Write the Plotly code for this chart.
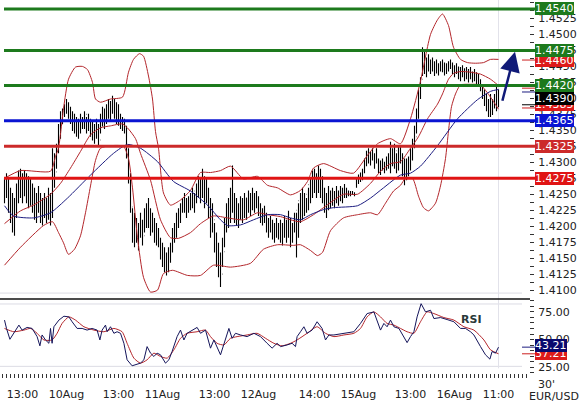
import plotly.graph_objects as go

W, H = 579, 406
FONT = "DejaVu Sans"

# ---------------- data ----------------
tick_idx = [9, 31, 57, 79, 105, 127, 155, 177, 203, 225, 247]
tick_txt = ["13:00", "10Aug", "13:00", "11Aug", "13:00", "12Aug",
            "14:00", "15Aug", "13:00", "16Aug", "11:00"]

# EUR/USD 30-minute bars, prices in pips (1.4275 -> 14275)
high_pips = [
    14275, 14283, 14275, 14260, 14252, 14244, 14267, 14287, 14290, 14283,
    14287, 14283, 14278, 14275, 14267, 14260, 14252, 14263, 14252, 14244,
    14252, 14244, 14260, 14252, 14322, 14314, 14329, 14360, 14380, 14384,
    14391, 14399, 14394, 14387, 14380, 14376, 14371, 14368, 14376, 14371,
    14380, 14371, 14376, 14368, 14365, 14360, 14368, 14360, 14376, 14387,
    14384, 14391, 14399, 14396, 14404, 14399, 14394, 14391, 14376, 14371,
    14368, 14357, 14322, 14283, 14228, 14221, 14213, 14205, 14221, 14210,
    14228, 14236, 14244, 14228, 14221, 14213, 14205, 14197, 14182, 14174,
    14167, 14159, 14167, 14174, 14197, 14205, 14221, 14228, 14236, 14244,
    14252, 14244, 14247, 14252, 14260, 14252, 14267, 14278, 14275, 14290,
    14278, 14275, 14260, 14244, 14236, 14205, 14190, 14174, 14159, 14182,
    14213, 14236, 14244, 14260, 14295, 14252, 14244, 14236, 14247, 14244,
    14252, 14244, 14256, 14252, 14260, 14252, 14255, 14247, 14236, 14228,
    14232, 14221, 14213, 14216, 14210, 14205, 14213, 14205, 14210, 14205,
    14216, 14210, 14224, 14213, 14205, 14221, 14221, 14236, 14252, 14260,
    14252, 14244, 14260, 14275, 14287, 14290, 14283, 14295, 14290, 14278,
    14260, 14252, 14263, 14256, 14260, 14255, 14263, 14256, 14263, 14260,
    14266, 14260, 14256, 14255, 14255, 14253, 14275, 14281, 14284, 14290,
    14306, 14318, 14322, 14317, 14322, 14314, 14322, 14306, 14303, 14306,
    14301, 14309, 14314, 14332, 14322, 14329, 14314, 14325, 14326, 14314,
    14306, 14306, 14309, 14322, 14337, 14357, 14384, 14414, 14433, 14480,
    14473, 14464, 14469, 14461, 14464, 14458, 14461, 14455, 14458, 14461,
    14456, 14455, 14458, 14461, 14456, 14452, 14455, 14450, 14449, 14452,
    14447, 14449, 14446, 14449, 14442, 14446, 14441, 14438, 14430, 14422,
    14414, 14407, 14399, 14407, 14399, 14407, 14422, 14414]
low_pips = [
    14236, 14244, 14221, 14205, 14190, 14185, 14213, 14236, 14244, 14236,
    14247, 14236, 14228, 14232, 14221, 14210, 14205, 14221, 14205, 14201,
    14213, 14205, 14210, 14201, 14213, 14260, 14290, 14314, 14337, 14360,
    14371, 14376, 14368, 14360, 14349, 14345, 14340, 14337, 14345, 14352,
    14352, 14345, 14349, 14340, 14334, 14329, 14337, 14326, 14345, 14356,
    14352, 14360, 14368, 14365, 14376, 14368, 14360, 14357, 14352, 14349,
    14345, 14306, 14267, 14221, 14174, 14167, 14174, 14162, 14182, 14170,
    14190, 14197, 14197, 14185, 14190, 14174, 14170, 14167, 14148, 14136,
    14128, 14123, 14128, 14143, 14159, 14174, 14182, 14197, 14205, 14221,
    14221, 14213, 14221, 14225, 14228, 14221, 14236, 14244, 14236, 14244,
    14228, 14236, 14213, 14182, 14190, 14159, 14136, 14120, 14105, 14136,
    14167, 14190, 14197, 14205, 14221, 14205, 14201, 14197, 14210, 14205,
    14213, 14210, 14221, 14216, 14225, 14221, 14228, 14216, 14205, 14201,
    14205, 14190, 14182, 14190, 14179, 14174, 14182, 14179, 14174, 14170,
    14182, 14174, 14182, 14167, 14174, 14190, 14151, 14182, 14205, 14210,
    14216, 14221, 14225, 14236, 14244, 14252, 14244, 14252, 14244, 14236,
    14221, 14213, 14225, 14228, 14232, 14228, 14236, 14232, 14239, 14236,
    14244, 14244, 14247, 14247, 14249, 14247, 14260, 14266, 14269, 14272,
    14283, 14294, 14298, 14295, 14303, 14290, 14298, 14283, 14280, 14287,
    14283, 14287, 14290, 14283, 14294, 14290, 14283, 14287, 14298, 14278,
    14264, 14272, 14278, 14287, 14303, 14322, 14345, 14368, 14399, 14435,
    14438, 14433, 14442, 14438, 14442, 14435, 14439, 14436, 14442, 14441,
    14436, 14438, 14442, 14446, 14438, 14433, 14438, 14430, 14427, 14433,
    14427, 14430, 14425, 14430, 14425, 14427, 14422, 14421, 14411, 14399,
    14388, 14380, 14371, 14371, 14374, 14384, 14380, 14386]
close_pips = [
    14250, 14262, 14240, 14220, 14200, 14230, 14255, 14275, 14260, 14270,
    14255, 14265, 14240, 14255, 14230, 14220, 14240, 14230, 14215, 14225,
    14240, 14215, 14245, 14225, 14300, 14285, 14320, 14350, 14360, 14380,
    14385, 14385, 14372, 14370, 14355, 14365, 14350, 14360, 14370, 14360,
    14375, 14355, 14365, 14345, 14350, 14340, 14355, 14335, 14370, 14375,
    14365, 14385, 14380, 14390, 14395, 14380, 14370, 14365, 14360, 14355,
    14350, 14315, 14275, 14230, 14185, 14200, 14180, 14190, 14205, 14185,
    14215, 14225, 14210, 14195, 14205, 14185, 14180, 14175, 14160, 14145,
    14140, 14135, 14160, 14165, 14185, 14195, 14215, 14220, 14230, 14240,
    14230, 14238, 14240, 14250, 14240, 14255, 14265, 14265, 14250, 14255,
    14245, 14255, 14225, 14200, 14210, 14175, 14160, 14135, 14125, 14160,
    14200, 14225, 14215, 14245, 14235, 14215, 14220, 14230, 14225, 14240,
    14225, 14245, 14235, 14250, 14240, 14235, 14240, 14225, 14215, 14215,
    14210, 14200, 14200, 14195, 14190, 14195, 14200, 14185, 14195, 14190,
    14200, 14190, 14210, 14180, 14200, 14200, 14225, 14240, 14245, 14235,
    14240, 14250, 14265, 14270, 14265, 14280, 14270, 14285, 14265, 14250,
    14230, 14240, 14245, 14250, 14240, 14250, 14245, 14255, 14250, 14255,
    14252, 14250, 14252, 14250, 14252, 14250, 14270, 14275, 14280, 14288,
    14300, 14310, 14305, 14310, 14312, 14300, 14305, 14295, 14290, 14298,
    14292, 14300, 14305, 14295, 14310, 14300, 14318, 14300, 14305, 14285,
    14290, 14295, 14300, 14315, 14330, 14340, 14375, 14405, 14430, 14445,
    14450, 14455, 14450, 14455, 14448, 14450, 14445, 14450, 14455, 14448,
    14445, 14450, 14455, 14450, 14445, 14440, 14448, 14440, 14435, 14445,
    14435, 14440, 14432, 14438, 14430, 14435, 14428, 14425, 14415, 14405,
    14395, 14390, 14378, 14395, 14385, 14395, 14400, 14390]
first_open_pips = 14245

# Bollinger bands and moving average (bar index, pips)
bb_up_idx = [0, 8, 23, 25.5, 27, 29.5, 32, 35.5, 39, 41.5, 44, 45.5, 48, 53, 59, 62, 64.5,
             67.5, 69.5, 72, 74, 75.5, 77, 79.5, 83, 88, 93, 98, 103, 108, 113, 119.5,
             126.5, 131.5, 136.5, 143, 148, 151.5, 154.5, 159.5, 168, 174.5, 181.5, 186.5,
             193, 198, 203, 208, 213, 216.5, 219, 222, 224.5, 228, 231.5, 235.5, 239.5, 243, 247]
bb_up_pips = [14275, 14287, 14286, 14309, 14322, 14384, 14430, 14449, 14450, 14445, 14425,
              14399, 14394, 14399, 14402, 14441, 14461, 14470, 14466, 14435, 14399, 14348,
              14322, 14252, 14233, 14241, 14256, 14284, 14284, 14287, 14294, 14274, 14278,
              14264, 14260, 14249, 14256, 14270, 14291, 14298, 14287, 14283, 14311, 14329,
              14337, 14329, 14368, 14427, 14500, 14523, 14532, 14514, 14480, 14461, 14456,
              14455, 14456, 14461, 14461]
bb_mid_idx = [0, 8, 14.5, 23, 28, 33, 38, 43, 48, 53, 59, 62, 65.5, 68, 73, 78, 83, 87, 93,
              98, 104.5, 111.5, 119.5, 126.5, 131.5, 138, 143, 148, 154.5, 159.5, 169.5,
              176.5, 183, 188, 193, 198, 203, 207, 211.5, 216.5, 219, 222, 224.5, 228, 233,
              238, 243, 247]
bb_mid_pips = [14204, 14224, 14233, 14250, 14267, 14291, 14317, 14343, 14354, 14357, 14360,
               14352, 14337, 14314, 14272, 14210, 14182, 14181, 14190, 14204, 14216, 14213,
               14210, 14221, 14218, 14215, 14210, 14207, 14218, 14229, 14250, 14250, 14267,
               14286, 14298, 14301, 14322, 14340, 14368, 14391, 14407, 14430, 14439, 14442,
               14441, 14438, 14430, 14420]
bb_low_idx = [0, 8, 19.5, 24, 27, 29.5, 32, 35, 38, 40.5, 43, 45.5, 48, 53, 59.5, 62, 64,
              66.5, 69.5, 73, 76.5, 79.5, 84, 91.5, 98, 104.5, 113, 123, 129.5, 136.5, 144.5,
              148, 153, 156.5, 159, 163, 169.5, 176.5, 183, 186.5, 190.5, 194.5, 198, 200.5,
              204, 207, 209.5, 212, 215.5, 218, 220.5, 222, 223.5, 225.5, 228, 233, 238, 243, 247]
bb_low_pips = [14139, 14167, 14201, 14207, 14190, 14174, 14156, 14164, 14185, 14221, 14263,
               14303, 14322, 14326, 14325, 14306, 14260, 14182, 14120, 14097, 14100, 14126,
               14131, 14123, 14123, 14139, 14136, 14142, 14164, 14171, 14170, 14171, 14162,
               14154, 14159, 14193, 14213, 14218, 14221, 14218, 14236, 14255, 14264, 14275,
               14275, 14247, 14229, 14224, 14236, 14263, 14306, 14349, 14387, 14407, 14421,
               14422, 14421, 14402, 14383]
ma_idx = [0, 4.5, 14.5, 23, 31.5, 43, 54.5, 61.5, 68, 76.5, 84.5, 93, 101.5, 108, 111.5,
          118, 124.5, 131.5, 138, 143, 148, 153, 159.5, 164.5, 176.5, 183, 189.5, 198, 203,
          208, 216.5, 226.5, 236.5, 243, 247]
ma_pips = [14232, 14216, 14213, 14221, 14244, 14280, 14314, 14328, 14322, 14301, 14270,
           14255, 14233, 14210, 14201, 14202, 14210, 14218, 14218, 14213, 14210, 14218,
           14226, 14229, 14232, 14244, 14260, 14280, 14283, 14294, 14326, 14368, 14398,
           14411, 14414]

# RSI and its signal line (bar index, value)
rsi_idx = [0, 1, 2.7, 5.5, 7.2, 8.8, 11.3, 13.8, 16.3, 17.7, 18.8, 20.5, 22.2, 23, 23.8,
           24.7, 27.2, 29.7, 32.2, 33.8, 36.3, 38.8, 41.3, 43.8, 46.3, 47.7, 48.8, 50.5,
           51.3, 53, 54.7, 56.3, 58, 59.7, 61.3, 63.8, 65.5, 68, 69.7, 71.3, 73, 74.7, 76.3,
           78, 80.5, 82.2, 83.8, 86.3, 88, 89.7, 91.3, 93.8, 96.3, 98, 100.5, 103, 104.7,
           108, 109.7, 112.2, 113.8, 115.5, 118, 121.3, 124.7, 128, 131.3, 133.8, 136.3,
           138, 141.3, 143.8, 145.5, 146.3, 148, 149.7, 151.3, 153.8, 156.3, 158.8, 160.5,
           162.2, 164.7, 169.7, 174.7, 178, 181.3, 184.7, 186.3, 188, 189.7, 191.3, 193,
           194.7, 197.2, 199.7, 201.3, 203, 204.7, 206.3, 208.3, 210.5, 213, 214.7, 218,
           221.3, 224.7, 228, 230.5, 233, 234.7, 238, 240.5, 242.7, 243.8, 245.5, 247]
rsi_val = [67.6, 60.1, 50.3, 58.6, 63.1, 58.6, 61.0, 60.1, 52.7, 44.4, 54.2, 49.7, 46.7,
           60.1, 46.7, 61.6, 67.6, 71.1, 70.5, 66.1, 60.1, 60.1, 58.6, 60.1, 58.6, 49.7,
           58.6, 63.1, 57.1, 61.6, 55.7, 57.1, 55.7, 46.7, 31.8, 26.4, 27.3, 28.8, 31.8,
           43.7, 37.8, 34.8, 37.8, 36.3, 28.8, 31.8, 39.3, 52.7, 58.6, 49.7, 55.7, 58.6,
           61.0, 55.7, 58.6, 42.3, 49.7, 36.3, 46.7, 60.1, 51.2, 55.7, 54.2, 52.7, 55.7,
           52.7, 46.7, 42.3, 46.7, 43.7, 45.2, 46.7, 43.7, 52.7, 57.1, 61.6, 55.7, 58.6,
           66.1, 60.1, 49.7, 54.2, 54.2, 55.7, 57.1, 64.6, 73.5, 75.0, 66.1, 58.6, 64.6,
           61.6, 67.6, 61.6, 60.1, 52.7, 47.3, 52.7, 57.1, 70.5, 82.4, 75.0, 76.5, 69.0,
           69.9, 68.1, 66.1, 60.1, 60.1, 57.1, 54.2, 43.7, 36.3, 32.4, 39.3, 37.8, 43.21]
sig_idx = [0, 4.7, 9.7, 13, 16.3, 19.7, 23.8, 26.3, 28.8, 32.2, 35.5, 39.7, 44.7, 49.7,
           54.7, 58.8, 61.3, 64.7, 68, 71.3, 74.7, 78, 81.3, 84.7, 88, 91.3, 96.3, 100.5,
           103, 106.3, 109.7, 113, 116.3, 121.3, 126.3, 130.5, 134.7, 138.8, 143, 146.3,
           151.3, 156.3, 160.5, 164.7, 169.7, 174.7, 178, 181.3, 184.7, 188, 191.3, 194.7,
           198, 201.3, 204.7, 208, 211.3, 214.7, 219.7, 224.7, 229.7, 234.7, 239.7, 243, 247]
sig_val = [60.1, 57.1, 58.6, 60.1, 55.7, 49.7, 49.7, 55.7, 64.6, 70.5, 67.6, 61.6, 58.6,
           57.1, 60.1, 57.1, 46.7, 33.3, 28.8, 31.8, 37.8, 34.8, 33.3, 40.8, 51.2, 55.7,
           57.1, 58.6, 52.7, 46.7, 45.2, 51.2, 52.7, 54.2, 55.7, 51.2, 46.7, 44.4, 46.7,
           49.7, 55.7, 61.6, 55.7, 52.7, 54.2, 55.7, 60.1, 70.5, 75.0, 70.5, 64.6, 63.1,
           60.1, 57.1, 55.7, 66.1, 75.0, 73.5, 69.9, 67.6, 61.6, 58.6, 49.7, 40.8, 37.21]

# Support / resistance levels
levels = [1.4540, 1.4475, 1.4420, 1.4365, 1.4325, 1.4275]
level_colors = ["#1d7a1d", "#1d7a1d", "#1d7a1d", "#0a14d2", "#cc2a2a", "#e01414"]

# Current values shown on the right scale
upper_last, mid_last, ma_last, close_last, lower_last = 1.4460, 1.4416, 1.4410, 1.4390, 1.4385
rsi_last, sig_last = 43.21, 37.21

# forecast arrow (bar index, price)
arrow_from = (248.75, 1.4394)
arrow_to = (255.25, 1.4473)

# ---------------- figure ----------------
n = len(high_pips)
x_idx = list(range(n))
hi = [v / 10000 for v in high_pips]
lo = [v / 10000 for v in low_pips]
cl = [v / 10000 for v in close_pips]
op = [first_open_pips / 10000] + cl[:-1]

XD = 529 / W
xrange_ = [-2.25, -2.25 + 529 / 2]
price_dom = [1 - 296 / H, 1]
rsi_dom = [1 - 377 / H, 1 - 302 / H]
price_top = 1.4540 + 9 * 0.00015493
price_bot = 1.4540 - 287 * 0.00015493
rsi_range = [25 - 6 / 1.12, 75 + 13 / 1.12]

fig = go.Figure()

BAND = "#b3262b"
NAVY = "#1c1c80"

def to_price(lst):
    return [v / 10000 for v in lst]

for xs, ys, col in [(bb_up_idx, bb_up_pips, BAND), (bb_low_idx, bb_low_pips, BAND),
                    (bb_mid_idx, bb_mid_pips, BAND), (ma_idx, ma_pips, NAVY)]:
    fig.add_trace(go.Scatter(x=xs, y=to_price(ys), mode="lines",
                             line=dict(color=col, width=1, shape="spline", smoothing=0.6),
                             xaxis="x", yaxis="y", hoverinfo="skip", showlegend=False))

fig.add_trace(go.Ohlc(x=x_idx, open=op, high=hi, low=lo, close=cl,
                      increasing=dict(line=dict(color="black", width=1.1)),
                      decreasing=dict(line=dict(color="black", width=1.1)),
                      tickwidth=0.2, xaxis="x", yaxis="y", showlegend=False))

fig.add_trace(go.Scatter(x=sig_idx, y=sig_val, mode="lines",
                         line=dict(color="#b3262b", width=1, shape="spline", smoothing=0.6),
                         xaxis="x2", yaxis="y2", showlegend=False, hoverinfo="skip"))
fig.add_trace(go.Scatter(x=rsi_idx, y=rsi_val, mode="lines",
                         line=dict(color="#14145a", width=1),
                         xaxis="x2", yaxis="y2", showlegend=False, hoverinfo="skip"))

shapes = []
# frame lines
shapes.append(dict(type="line", xref="paper", yref="paper", x0=0, x1=522 / W,
                   y0=1 - 296 / H, y1=1 - 296 / H, line=dict(color="#dcdce4", width=1), layer="below"))
shapes.append(dict(type="line", xref="paper", yref="paper", x0=0, x1=530 / W,
                   y0=1 - 302 / H, y1=1 - 302 / H, line=dict(color="#111111", width=1.5)))
for yy in (307, 370):
    shapes.append(dict(type="line", xref="paper", yref="paper", x0=0, x1=522 / W,
                       y0=1 - yy / H, y1=1 - yy / H, line=dict(color="#dcdce4", width=1), layer="below"))
shapes.append(dict(type="line", xref="x", yref="paper", x0=n - 1, x1=n - 1,
                   y0=1 - 372 / H, y1=1, line=dict(color="#e2e2ea", width=1), layer="below"))
# level lines
for lv, c in zip(levels, level_colors):
    shapes.append(dict(type="line", xref="paper", yref="y", x0=4 / W, x1=536 / W,
                       y0=lv, y1=lv, line=dict(color=c, width=3)))
# value markers on the scale
for v, c in [(upper_last, "#cc2020"), (mid_last, "#cc2020"), (ma_last, NAVY),
             (close_last, "#000000"), (lower_last, "#cc2020")]:
    shapes.append(dict(type="line", xref="paper", yref="y", x0=522 / W, x1=536 / W,
                       y0=v, y1=v, line=dict(color=c, width=1)))
for v, c in [(rsi_last, NAVY), (sig_last, "#cc2020")]:
    shapes.append(dict(type="line", xref="paper", yref="y2", x0=522 / W, x1=536 / W,
                       y0=v, y1=v, line=dict(color=c, width=1)))

ann = []
def box(val, txt, bg, yref="y", yshift=0):
    ann.append(dict(x=535 / W, xref="paper", y=val, yref=yref, xanchor="left", yanchor="middle",
                    text=txt, showarrow=False, bgcolor=bg, borderpad=0, borderwidth=0,
                    yshift=yshift, font=dict(family=FONT, size=11, color="white")))

box(lower_last, f"{lower_last:.4f}", "#dd1a1a", yshift=3)
box(mid_last, f"{mid_last:.4f}", "#dd1a1a", yshift=-3)
box(upper_last, f"{upper_last:.4f}", "#dd1a1a")
for lv, c in zip(levels, level_colors):
    box(lv, f"{lv:.4f}", c)
box(close_last, f"{close_last:.4f}", "#000000", yshift=6)
box(sig_last, f"{sig_last:.2f}", "#dd1a1a", yref="y2")
box(rsi_last, f"{rsi_last:.2f}", "#0a0a6e", yref="y2", yshift=2)

ann.append(dict(x=arrow_to[0], y=arrow_to[1], ax=arrow_from[0], ay=arrow_from[1],
                xref="x", yref="y", axref="x", ayref="y", text="", showarrow=True,
                arrowhead=2, arrowsize=1.6, arrowwidth=2.5, arrowcolor="#101a78"))
ann.append(dict(x=484 / W, y=1 - 323 / H, xref="paper", yref="paper", text="<b>RSI</b>",
                yanchor="middle", showarrow=False, font=dict(family=FONT, size=11, color="#2a3838")))
ann.append(dict(x=557 / W, y=1 - 388 / H, xref="paper", yref="paper", text="30'",
                yanchor="middle", showarrow=False, font=dict(family=FONT, size=11, color="#222")))
ann.append(dict(x=527 / W, y=1 - 400 / H, xref="paper", yref="paper", text="EUR/USD",
                xanchor="left", yanchor="middle", showarrow=False,
                font=dict(family=FONT, size=11, color="#222")))

fig.update_layout(
    width=W, height=H, margin=dict(l=0, r=0, t=0, b=0),
    paper_bgcolor="white", plot_bgcolor="white", showlegend=False,
    font=dict(family=FONT, size=11, color="#222"),
    shapes=shapes, annotations=ann,
    xaxis=dict(domain=[0, XD], range=xrange_, anchor="y", showgrid=False, zeroline=False,
               showticklabels=False, ticks="", rangeslider=dict(visible=False), fixedrange=True),
    yaxis=dict(domain=price_dom, range=[price_bot, price_top], side="right", anchor="x",
               showgrid=False, zeroline=False, tickformat=".4f", tick0=1.41, dtick=0.0025,
               ticks="outside", ticklen=4, tickcolor="#333", ticklabelstandoff=2,
               minor=dict(dtick=0.00125, tick0=1.41, ticks="outside", ticklen=4, tickcolor="#333"),
               tickfont=dict(family=FONT, size=11, color="#222")),
    xaxis2=dict(domain=[0, XD], range=xrange_, anchor="y2", showgrid=False, zeroline=False,
                tickvals=tick_idx, ticktext=tick_txt, ticks="outside", ticklen=4, tickcolor="#333",
                minor=dict(dtick=2, tick0=1, ticks="outside", ticklen=4, tickcolor="#333"),
                tickfont=dict(family=FONT, size=11, color="#222"), ticklabelstandoff=7),
    yaxis2=dict(domain=rsi_dom, range=rsi_range, side="right", anchor="x2", showgrid=False,
                zeroline=False, tickvals=[25, 50, 75], tickformat=".2f", ticks="outside",
                ticklen=4, tickcolor="#333", ticklabelstandoff=2,
                minor=dict(dtick=5, tick0=0, ticks="outside", ticklen=4, tickcolor="#333"),
                tickfont=dict(family=FONT, size=11, color="#222")),
)

# the page body has a default 8px margin; remove it so the figure fills the window
fig.write_html("out.html", config={"displayModeBar": False},
               post_script="document.body.style.margin='0';")
